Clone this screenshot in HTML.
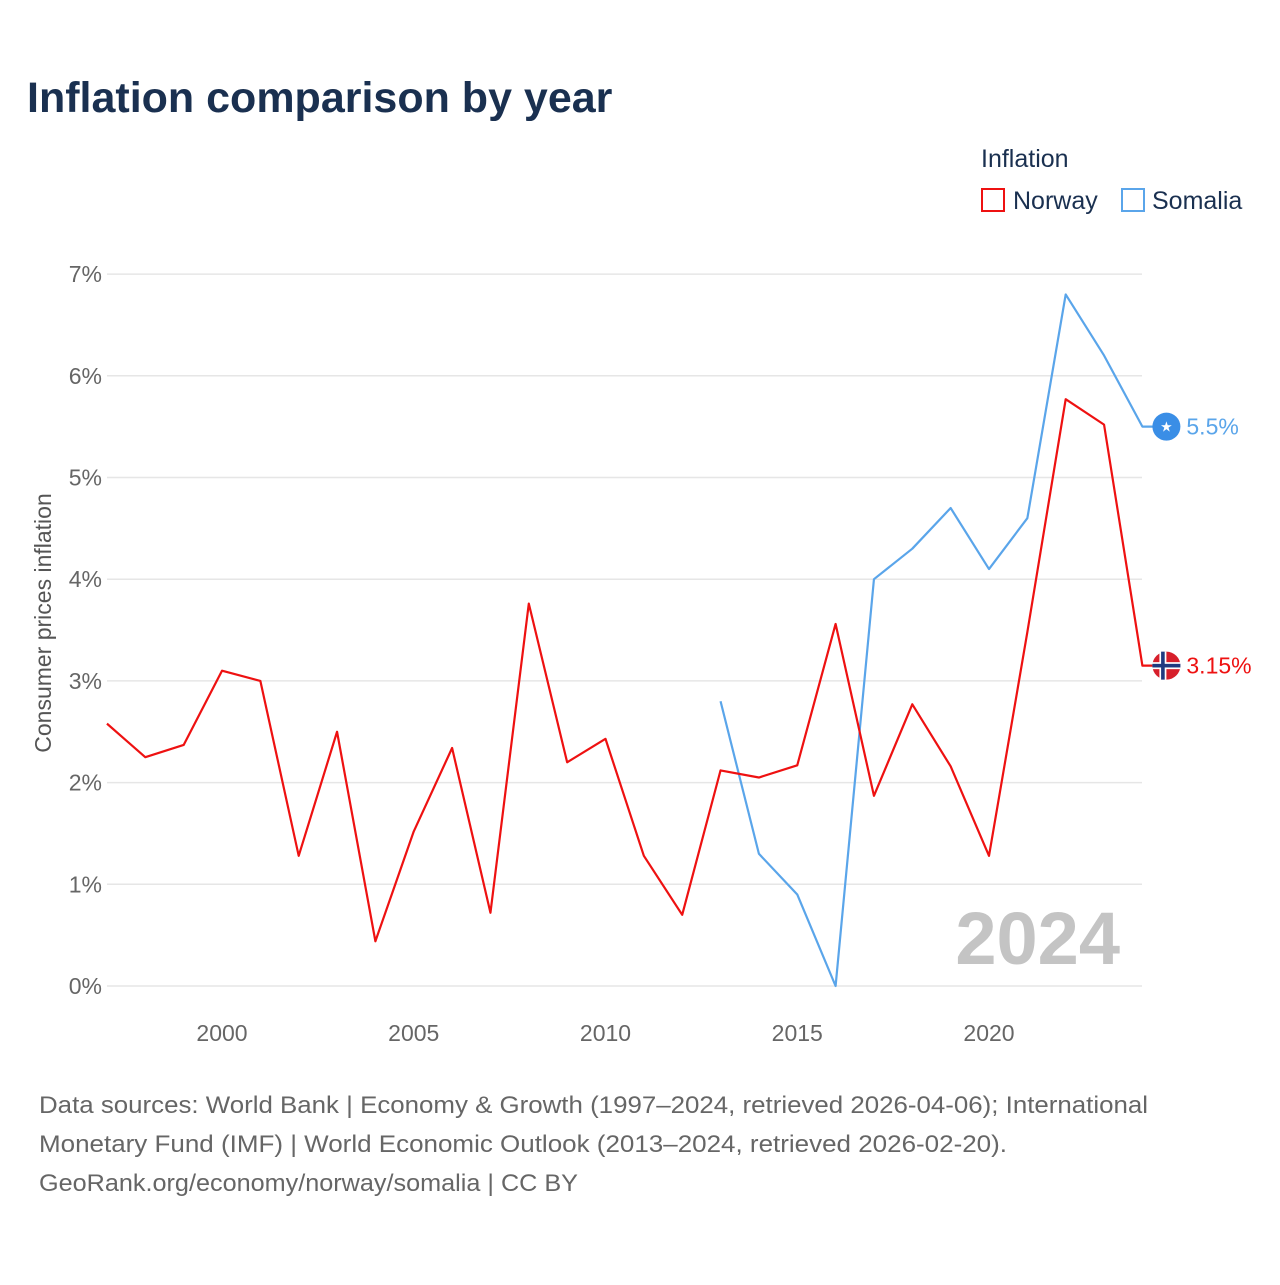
<!DOCTYPE html>
<html><head><meta charset="utf-8">
<style>
body{margin:0;background:#fff;width:1280px;height:1280px;overflow:hidden;font-family:"Liberation Sans",sans-serif}
</style></head>
<body>
<svg id="chart" width="1280" height="1280" xmlns="http://www.w3.org/2000/svg" font-family="Liberation Sans, sans-serif">
<text x="27" y="112" font-size="43" font-weight="bold" fill="#1a3050">Inflation comparison by year</text>
<text x="981" y="167" font-size="25" fill="#1a3050">Inflation</text>
<g><rect x="982" y="189" width="22" height="22" fill="none" stroke="#ee1111" stroke-width="2"/><text x="1013" y="209" font-size="25" fill="#1a3050">Norway</text></g>
<g><rect x="1122" y="189" width="22" height="22" fill="none" stroke="#5aa5ea" stroke-width="2"/><text x="1152" y="209" font-size="25" fill="#1a3050">Somalia</text></g>
<text transform="translate(51,623) rotate(-90)" text-anchor="middle" font-size="23" fill="#555">Consumer prices inflation</text>
<g id="grid"></g><g id="xt"></g>
<text x="1120" y="964" text-anchor="end" font-size="74" font-weight="bold" fill="#c4c4c4">2024</text>
<g id="series"></g>
<g font-size="24" fill="#666">
<text x="39" y="1113" textLength="1109" lengthAdjust="spacingAndGlyphs">Data sources: World Bank | Economy &amp; Growth (1997–2024, retrieved 2026-04-06); International</text>
<text x="39" y="1152" textLength="968" lengthAdjust="spacingAndGlyphs">Monetary Fund (IMF) | World Economic Outlook (2013–2024, retrieved 2026-02-20).</text>
<text x="39" y="1191" textLength="539" lengthAdjust="spacingAndGlyphs">GeoRank.org/economy/norway/somalia | CC BY</text>
</g>
</svg>
<script>
const yTicks=[0,1,2,3,4,5,6,7];
const xTicks=[2000,2005,2010,2015,2020];
const norwayYears=[1997,1998,1999,2000,2001,2002,2003,2004,2005,2006,2007,2008,2009,2010,2011,2012,2013,2014,2015,2016,2017,2018,2019,2020,2021,2022,2023,2024];
const norwayValues=[2.58,2.25,2.37,3.10,3.00,1.28,2.50,0.44,1.52,2.34,0.72,3.76,2.20,2.43,1.28,0.70,2.12,2.05,2.17,3.56,1.87,2.77,2.16,1.28,3.48,5.77,5.52,3.15];
const somaliaYears=[2013,2014,2015,2016,2017,2018,2019,2020,2021,2022,2023,2024];
const somaliaValues=[2.8,1.3,0.9,0.0,4.0,4.3,4.7,4.1,4.6,6.8,6.2,5.5];
const NS="http://www.w3.org/2000/svg";
const X=y=>222+(y-2000)*38.35;
const Y=v=>986-v*101.7;
function mk(t,a,p){const e=document.createElementNS(NS,t);for(const k in a)e.setAttribute(k,a[k]);p.appendChild(e);return e;}
const grid=document.getElementById('grid');
yTicks.forEach(v=>{
 const l=mk('line',{x1:107,x2:1142,y1:Y(v),y2:Y(v),stroke:'#e6e6e6','stroke-width':1.5},grid);
 
 
 const t=mk('text',{x:102,y:Y(v)+8,'text-anchor':'end','font-size':23,fill:'#666'},grid);
 t.textContent=v+'%';
 
 
});
const xt=document.getElementById('xt');
xTicks.forEach(y=>{
 const t=mk('text',{x:X(y),y:1041,'text-anchor':'middle','font-size':23,fill:'#666'},xt);
 t.textContent=y;
 
 
});
const S=document.getElementById('series');
function draw(years,vals,color,name,label){
 const pts=years.map((y,i)=>X(y)+','+Y(vals[i]));
 const last=vals[vals.length-1];
 pts.push((X(years[years.length-1])+24)+','+Y(last));
 const p=mk('polyline',{points:pts.join(' '),fill:'none',stroke:color,'stroke-width':2.2,'stroke-linejoin':'round'},S);
 
 
 const cx=X(years[years.length-1])+24, cy=Y(last);
 const g=mk('g',{},S);
 
 
 if(name==='norway'){
  mk('circle',{cx:cx,cy:cy,r:14,fill:'#d71f2b'},g);
  mk('rect',{x:cx-14,y:cy-3.5,width:28,height:7,fill:'#fff'},g);
  mk('rect',{x:cx-7,y:cy-14,width:7,height:28,fill:'#fff'},g);
  mk('rect',{x:cx-14,y:cy-1.8,width:28,height:3.6,fill:'#1f3a80'},g);
  mk('rect',{x:cx-5.3,y:cy-14,width:3.6,height:28,fill:'#1f3a80'},g);
 } else {
  mk('circle',{cx:cx,cy:cy,r:14,fill:'#3a8ee6'},g);
  const s=mk('text',{x:cx,y:cy+5,'text-anchor':'middle','font-size':14,fill:'#fff'},g);s.textContent='★';
 }
 const t=mk('text',{x:cx+20,y:cy+8,'font-size':23,fill:color},S);
 t.textContent=label;
 
 
}
draw(somaliaYears,somaliaValues,'#5aa5ea','somalia',somaliaValues[somaliaValues.length-1]+'%');
draw(norwayYears,norwayValues,'#ee1111','norway',norwayValues[norwayValues.length-1]+'%');
</script>
</body></html>
